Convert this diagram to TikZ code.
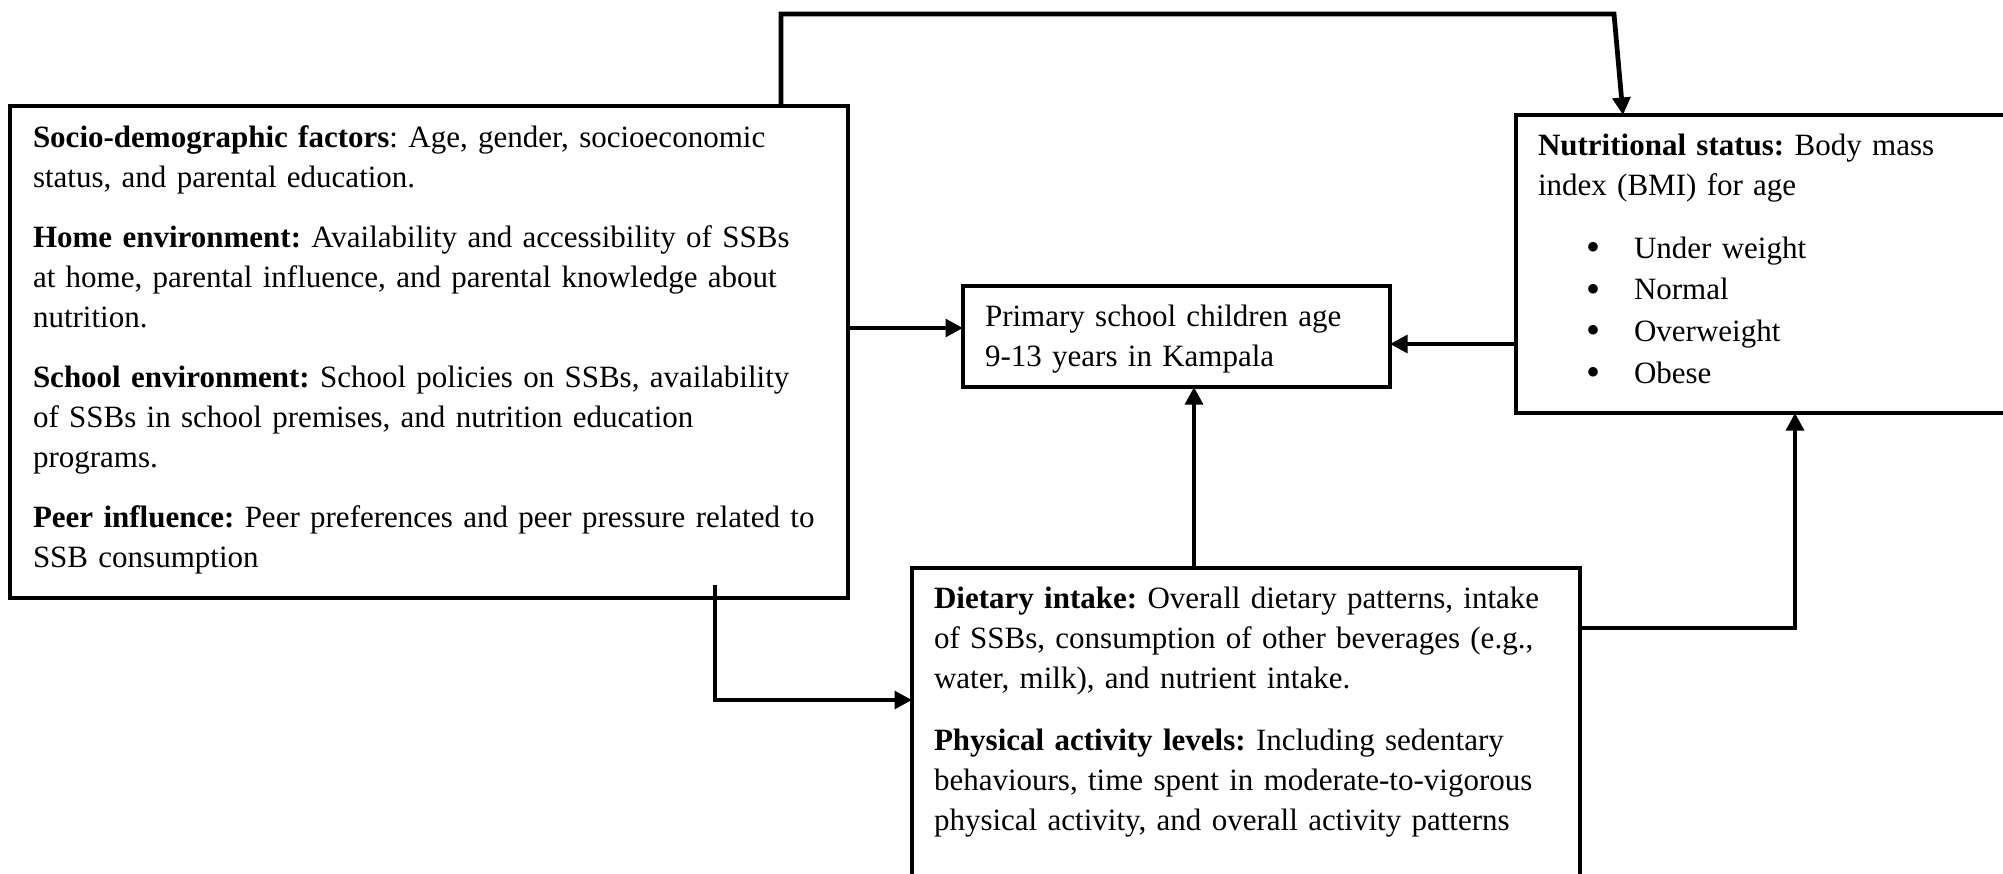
\documentclass[tikz,border=0pt]{standalone}
\usepackage{fontspec}
\setmainfont{Liberation Serif}
\usetikzlibrary{arrows.meta}
\frenchspacing
\tikzset{
  box/.style={draw, line width=1.3pt, inner sep=0pt, outer sep=0pt, rectangle},
  para/.style={anchor=base west, inner sep=0pt, outer sep=0pt, text width=340pt, align=left,
    font=\fontsize{12.4pt}{16pt}\selectfont\frenchspacing},
  conn/.style={line width=1.9pt, line join=miter},
  arr/.style={conn, -{Triangle[length=7pt, width=7pt]}},
}
\newcommand{\bul}{\leavevmode\llap{\raisebox{-0.9pt}{\fontsize{16pt}{16pt}\selectfont •}\hspace{13.6pt}}}
\begin{document}
\begin{tikzpicture}[x=0.4pt, y=-0.4pt]
\useasboundingbox (0,0) rectangle (2003,873);
\clip (0,0) rectangle (2003,873);
\fill[white] (0,0) rectangle (2003,873);

% boxes
\node[box, minimum width=335.2pt, minimum height=196.8pt] (L) at (429,352) {};
\node[box, minimum width=170.8pt, minimum height=40.4pt] (C) at (1176.5,336.5) {};
\node[box, minimum width=201.6pt, minimum height=119.2pt] (R) at (1768,264) {};
\node[box, minimum width=267.2pt, minimum height=140.8pt] (D) at (1246,744) {};

% left box text
\node[para] (l1) at (33,147) {\textbf{Socio-demographic factors}: Age, gender, socioeconomic\\status, and parental education.};
\node[para] (l2) at (33,247) {\textbf{Home environment:} Availability and accessibility of SSBs\\at home, parental influence, and parental knowledge about\\nutrition.};
\node[para] (l3) at (33,387) {\textbf{School environment:} School policies on SSBs, availability\\of SSBs in school premises, and nutrition education\\programs.};
\node[para] (l4) at (33,527) {\textbf{Peer influence:} Peer preferences and peer pressure related to\\SSB consumption};

% center text
\node[para] (c1t) at (985,326) {Primary school children age\\9-13 years in Kampala};

% right box text
\node[para] (r1) at (1538,155) {\textbf{Nutritional status:} Body mass\\index (BMI) for age};
\node[para, font=\fontsize{12.4pt}{16.7pt}\selectfont\frenchspacing] (r2) at (1634,258) {\bul Under weight\\\bul Normal\\\bul Overweight\\\bul Obese};

% bottom box text
\node[para] (d1) at (934,608) {\textbf{Dietary intake:} Overall dietary patterns, intake\\of SSBs, consumption of other beverages (e.g.,\\water, milk), and nutrient intake.};
\node[para] (d2) at (934,750) {\textbf{Physical activity levels:} Including sedentary\\behaviours, time spent in moderate-to-vigorous\\physical activity, and overall activity patterns};

% connector coordinates
\coordinate (t1) at (781,14);
\coordinate (t2) at (1614,14);
\coordinate (t3) at (1623,0);
\coordinate (a1) at (0,328);
\coordinate (a2) at (0,344);
\coordinate (a3) at (1194,0);
\coordinate (a4) at (715,585);
\coordinate (a5) at (715,700);
\coordinate (a6) at (1795,628);

% connectors
\draw[arr] (L.north -| t1) -- (t1) -- (t2) -- (R.north -| t3);
\draw[arr] (L.east |- a1) -- (C.west |- a1);
\draw[arr] (R.west |- a2) -- (C.east |- a2);
\draw[arr] (D.north -| a3) -- (C.south -| a3);
\draw[arr] (a4) -- (a5) -- (D.west |- a5);
\draw[arr] (D.east |- a6) -- (a6) -- (R.south -| a6);
\end{tikzpicture}
\end{document}
